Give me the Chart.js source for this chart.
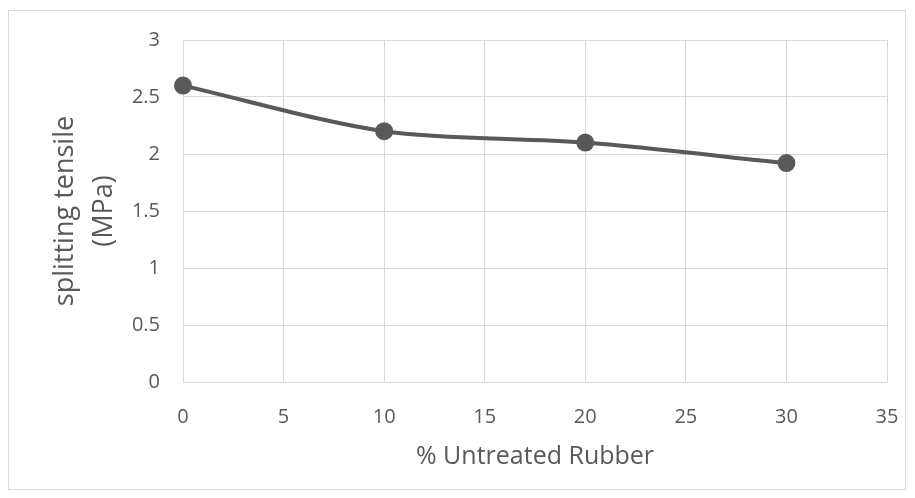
<!DOCTYPE html>
<html>
<head>
<meta charset="utf-8">
<script src="https://cdn.jsdelivr.net/npm/chart.js@4/dist/chart.umd.min.js"></script>
<style>
  body { margin: 0; background: #fff; }
  #box {
    position: absolute; left: 8px; top: 10px;
    width: 898px; height: 480px;
    border: 1px solid #d9d9d9; box-sizing: border-box;
  }
</style>
</head>
<body>
<div id="box"><canvas id="chart"></canvas></div>
<script>
// rubber content (%) and measured splitting tensile strength (MPa)
const rubberPct = [0, 10, 20, 30];
const tensile = [2.6, 2.2, 2.1, 1.92];

const xTitle = '% Untreated Rubber';
const yTitle = ['splitting tensile', '(MPa)'];

const grey = '#595959';
const gridGrey = '#d9d9d9';
const fontFamily = '"Open Sans", sans-serif';

new Chart(document.getElementById('chart'), {
    type: 'scatter',
    data: {
        datasets: [{
            data: rubberPct.map((x, i) => ({ x: x, y: tensile[i] })),
            showLine: true,
            tension: 0.3,
            borderColor: grey,
            backgroundColor: grey,
            borderWidth: 4,
            pointRadius: 7,
            pointHoverRadius: 7,
            clip: false
        }]
    },
    options: {
        responsive: true,
        maintainAspectRatio: false,
        animation: false,
        layout: { padding: { top: 29, right: 18, left: 0, bottom: 0 } },
        plugins: {
            legend: { display: false },
            tooltip: { enabled: false }
        },
        scales: {
            x: {
                type: 'linear',
                min: 0,
                max: 35,
                ticks: { stepSize: 5, padding: 23, color: grey, font: { family: fontFamily, size: 20 } },
                grid: { color: gridGrey, drawTicks: false },
                border: { color: gridGrey },
                title: {
                    display: true,
                    text: xTitle,
                    color: grey,
                    font: { family: fontFamily, size: 25 },
                    padding: { top: 0, bottom: 17 }
                },
                // fixed box so the plot area lands where the reference has it
                afterFit: scale => {
                    scale.height = 107;
                    scale.paddingLeft = 0;
                    scale.paddingRight = 0;
                }
            },
            y: {
                min: 0,
                max: 3,
                ticks: {
                    stepSize: 0.5, padding: 23, color: grey,
                    font: { family: fontFamily, size: 20 },
                    callback: v => String(v)
                },
                grid: { color: gridGrey, drawTicks: false },
                border: { color: gridGrey },
                title: {
                    display: true,
                    text: yTitle,
                    color: grey,
                    font: { family: fontFamily, size: 27, lineHeight: 1.45 },
                    padding: { top: 37, bottom: 0 }
                },
                afterFit: scale => {
                    scale.width = 174;
                    scale.paddingTop = 0;
                    scale.paddingBottom = 0;
                }
            }
        }
    }
});
</script>
</body>
</html>
